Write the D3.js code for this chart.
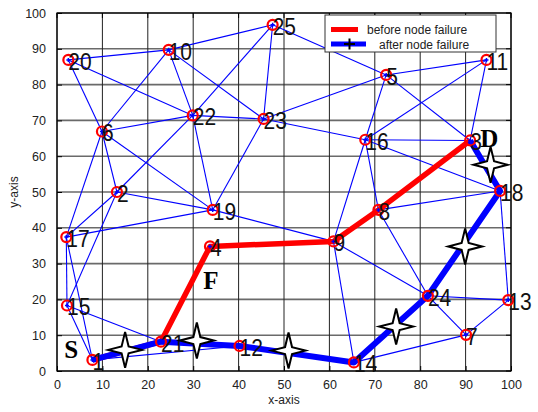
<!DOCTYPE html>
<html><head><meta charset="utf-8">
<script src="https://cdn.jsdelivr.net/npm/d3@7"></script>
<style>body{margin:0;background:#fff;}svg{display:block;}</style>
</head><body>
<script>
// ---- data ----
const nodeIds = [1,2,3,4,5,6,7,8,9,10,11,12,13,14,15,16,17,18,19,20,21,22,23,24,25];
const nodeX = [7.8,13.2,91.0,33.7,72.5,9.9,90.1,70.8,60.9,24.6,94.6,40.2,99.4,65.4,2.2,67.9,2.05,97.6,34.3,2.5,22.9,29.9,45.5,81.7,47.5];
const nodeY = [3.1,50.0,64.4,34.8,82.7,66.9,10.1,45.0,36.2,89.7,86.9,7.0,19.8,2.4,18.3,64.6,37.4,50.3,45.0,86.9,8.2,71.4,70.4,21.0,96.7];
const edgeFrom = [20,20,20,10,10,10,10,25,25,25,22,22,22,22,6,6,6,23,23,23,2,2,2,19,19,16,16,16,16,16,16,5,5,11,8,8,9,9,24,24,13,13,7,1,15,15,17,17];
const edgeTo   = [10,6,22,25,22,23,6,22,23,5,23,6,2,19,2,17,19,19,16,5,19,17,15,17,9,5,11,3,18,9,8,11,3,3,18,24,24,14,13,7,7,18,14,12,21,1,1,15];
const redPath  = [1,21,4,9,8,3];
const bluePath = [1,21,12,14,24,18,3];
const starX = [15.0,30.8,51.0,74.7,89.9,95.5];
const starY = [5.9,8.5,5.7,12.4,34.8,57.6];
const tickValues = [0,10,20,30,40,50,60,70,80,90,100];
const markerText = ["S","F","D"];
const markerX = [1.6,32.2,93.2];
const markerY = [3.6,22.9,62.6];
const legendLabels = ["before node failure","after node failure"];

// ---- layout ----
const W = 538, H = 412;
const L = 57, R = 511, T = 13, B = 371;
const x = d3.scaleLinear().domain([0,100]).range([L,R]);
const y = d3.scaleLinear().domain([0,100]).range([B,T]);
const pos = {};
nodeIds.forEach((id,i)=>pos[id]=[x(nodeX[i]),y(nodeY[i])]);

const svg = d3.select("body").append("svg").attr("width",W).attr("height",H);
svg.append("rect").attr("width",W).attr("height",H).attr("fill","#fff");

// grid
svg.append("g").selectAll("line").data(tickValues).join("line")
  .attr("x1",L).attr("x2",R).attr("y1",d=>y(d)).attr("y2",d=>y(d))
  .attr("stroke","#6a6a6a").attr("stroke-width",1.6);
svg.append("g").selectAll("line").data(tickValues).join("line")
  .attr("y1",T).attr("y2",B).attr("x1",d=>x(d)).attr("x2",d=>x(d))
  .attr("stroke","#222").attr("stroke-width",1);

// axes
const fontSans = "Liberation Sans, Arial, sans-serif";
const xAxis = d3.axisBottom(x).tickValues(tickValues).tickSize(-5).tickPadding(9);
const yAxis = d3.axisLeft(y).tickValues(tickValues).tickSize(-5).tickPadding(11);
const gx = svg.append("g").attr("transform",`translate(0,${B})`).call(xAxis);
const gy = svg.append("g").attr("transform",`translate(${L},0)`).call(yAxis);
[gx,gy].forEach(g=>{
  g.select(".domain").remove();
  g.selectAll("text").attr("font-family",fontSans).attr("font-size",12.5).attr("fill","#222");
  g.selectAll("line").attr("stroke","#000");
});
// top/right ticks
svg.append("g").selectAll("line").data(tickValues).join("line")
  .attr("x1",d=>x(d)).attr("x2",d=>x(d)).attr("y1",T).attr("y2",T+5).attr("stroke","#000");
svg.append("g").selectAll("line").data(tickValues).join("line")
  .attr("y1",d=>y(d)).attr("y2",d=>y(d)).attr("x1",R).attr("x2",R-5).attr("stroke","#000");
svg.append("rect").attr("x",L).attr("y",T).attr("width",R-L).attr("height",B-T)
  .attr("fill","none").attr("stroke","#000").attr("stroke-width",1.2);

svg.append("text").attr("x",(L+R)/2).attr("y",404).attr("text-anchor","middle")
  .attr("font-family",fontSans).attr("font-size",12).attr("fill","#222").text("x-axis");
svg.append("text").attr("transform",`translate(18,${(T+B)/2}) rotate(-90)`).attr("text-anchor","middle")
  .attr("font-family",fontSans).attr("font-size",12).attr("fill","#222").text("y-axis");

// thin edges
svg.append("g").selectAll("line").data(edgeFrom.map((f,i)=>[f,edgeTo[i]])).join("line")
  .attr("x1",d=>pos[d[0]][0]).attr("y1",d=>pos[d[0]][1])
  .attr("x2",d=>pos[d[1]][0]).attr("y2",d=>pos[d[1]][1])
  .attr("stroke","#0000ff").attr("stroke-width",1.1);

const line = d3.line().x(d=>pos[d][0]).y(d=>pos[d][1]);
svg.append("path").attr("d",line(redPath)).attr("fill","none")
  .attr("stroke","#ff0000").attr("stroke-width",5.5).attr("stroke-linejoin","round");
svg.append("path").attr("d",line(bluePath)).attr("fill","none")
  .attr("stroke","#0000ff").attr("stroke-width",6).attr("stroke-linejoin","round");

// node circles
const ng = svg.append("g").selectAll("g").data(nodeIds).join("g")
  .attr("transform",d=>`translate(${pos[d][0]},${pos[d][1]})`);
ng.append("circle").attr("r",5).attr("fill","none").attr("stroke","#ff0000").attr("stroke-width",2.2);
ng.append("path").attr("d","M-2,0H2M0,-2V2").attr("stroke","#0000ff").attr("stroke-width",1.5);

// node labels
svg.append("g").selectAll("text").data(nodeIds).join("text")
  .attr("transform",d=>`translate(${pos[d][0]},${pos[d][1]+10}) scale(1,1.1)`)
  .attr("font-family",fontSans).attr("font-size",21).attr("fill","#111").text(d=>d);

// stars
const sr = 17, si = 3.5;
const starPath = `M0,${-sr-1}L${si},${-si}L${sr},0L${si},${si}L0,${sr+1}L${-si},${si}L${-sr},0L${-si},${-si}Z`;
svg.append("g").selectAll("path").data(starX.map((v,i)=>[v,starY[i]])).join("path")
  .attr("transform",d=>`translate(${x(d[0])},${y(d[1])})`).attr("d",starPath)
  .attr("fill","#fff").attr("stroke","#000").attr("stroke-width",2).attr("stroke-linejoin","miter");

// S F D
svg.append("g").selectAll("text").data(markerText).join("text")
  .attr("x",(d,i)=>x(markerX[i])).attr("y",(d,i)=>y(markerY[i]))
  .attr("font-family","Liberation Serif, Times New Roman, serif").attr("font-weight","bold")
  .attr("font-size",25).attr("fill","#000").text(d=>d);

// legend
const lg = svg.append("g");
lg.append("rect").attr("x",325).attr("y",15).attr("width",171).attr("height",37)
  .attr("fill","#fff").attr("stroke","#333").attr("stroke-width",1);
lg.append("line").attr("x1",331).attr("x2",358).attr("y1",29.5).attr("y2",29.5)
  .attr("stroke","#ff0000").attr("stroke-width",5);
lg.append("line").attr("x1",331).attr("x2",366).attr("y1",44).attr("y2",44)
  .attr("stroke","#0000ff").attr("stroke-width",5);
lg.append("path").attr("d","M344,44H355M349.5,38.5V49.5").attr("stroke","#000").attr("stroke-width",2);
lg.selectAll("text").data(legendLabels).join("text")
  .attr("x",(d,i)=>i===0?367:379).attr("y",(d,i)=>i===0?33.5:48.5)
  .attr("font-family",fontSans).attr("font-size",12).attr("fill","#222").text(d=>d);
</script>
</body></html>
